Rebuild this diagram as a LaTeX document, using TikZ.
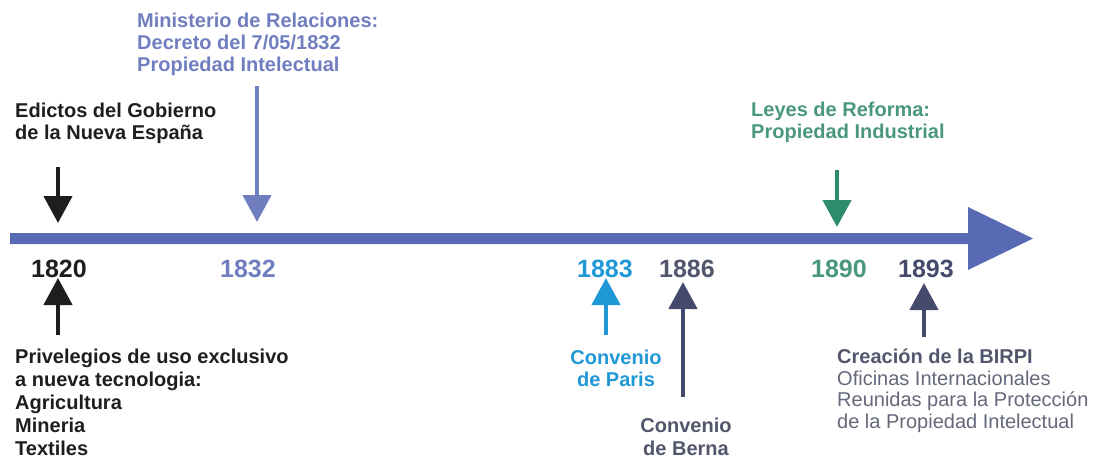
\documentclass[tikz,border=0pt]{standalone}
\usepackage{fontspec}
\setmainfont{Liberation Sans}
\usetikzlibrary{arrows.meta}

\definecolor{barblue}{RGB}{88,106,180}
\definecolor{lightslate}{RGB}{112,126,192}
\definecolor{inkblack}{RGB}{30,30,30}
\definecolor{skyblue}{RGB}{32,152,214}
\definecolor{darkslate}{RGB}{68,74,108}
\definecolor{slatetext}{RGB}{82,86,108}
\definecolor{greenarrow}{RGB}{46,140,110}
\definecolor{greentext}{RGB}{74,152,124}
\definecolor{greytext}{RGB}{100,104,122}

% multi-line labels are placed by the baseline of their last line
\tikzset{
  label/.style={inner sep=0pt, align=left, anchor=base west,
    font=\fontsize{20}{22}\selectfont\bfseries},
  labelc/.style={label, align=center, anchor=base},
  year/.style={inner sep=0pt, anchor=base,
    font=\fontsize{25}{27}\selectfont\bfseries},
  pointer/.style={line width=4.5pt,
    -{Triangle[width=28pt,length=27pt]}},
}

\begin{document}
\begin{tikzpicture}[x=1pt,y=-1pt]
\useasboundingbox (0,0) rectangle (1096,459);

% timeline bar with its arrow head
\fill[barblue] (10,233) -- (968,233) -- (968,207) -- (1033,238.5)
  -- (968,270) -- (968,244) -- (10,244) -- cycle;

% years under the bar
\node[year, text=inkblack]   (y1820) at (59,277)  {1820};
\node[year, text=lightslate] (y1832) at (248,277) {1832};
\node[year, text=skyblue]    (y1883) at (605,277) {1883};
\node[year, text=slatetext]  (y1886) at (687,277) {1886};
\node[year, text=greentext]  (y1890) at (839,277) {1890};
\node[year, text=darkslate]  (y1893) at (926,277) {1893};

% events above the bar
\node[label, text=inkblack] (edictos) at (15,139)
  {Edictos del Gobierno\\de la Nueva España};
\node[label, text=lightslate] (ministerio) at (137,71)
  {Ministerio de Relaciones:\\Decreto del 7/05/1832\\Propiedad Intelectual};
\node[label, text=greentext] (leyes) at (751,138)
  {Leyes de Reforma:\\Propiedad Industrial};

% events below the bar
\node[label, text=inkblack, font=\fontsize{20}{23}\selectfont\bfseries] (privilegios) at (15,455)
  {Privelegios de uso exclusivo\\a nueva tecnologia:\\Agricultura\\Mineria\\Textiles};
\node[labelc, text=skyblue] (paris) at (616,386) {Convenio\\de Paris};
\node[labelc, text=slatetext, font=\fontsize{20}{23}\selectfont\bfseries] (berna) at (686,455)
  {Convenio\\de Berna};
\node[label, text=slatetext, font=\fontsize{20}{21.5}\selectfont\bfseries] (birpi) at (837,428)
  {Creación de la BIRPI\\{\mdseries\color{greytext}Oficinas Internacionales}\\
   {\mdseries\color{greytext}Reunidas para la Protección}\\
   {\mdseries\color{greytext}de la Propiedad Intelectual}};

% pointer ends
\coordinate (e1s) at (58,167);  \coordinate (e1t) at (58,223);
\coordinate (m1s) at (257,86);  \coordinate (m1t) at (257,222);
\coordinate (p1s) at (58,335);  \coordinate (p1t) at (58,278);
\coordinate (c1s) at (606,335); \coordinate (c1t) at (606,278);
\coordinate (b1s) at (683,397); \coordinate (b1t) at (683,282);
\coordinate (l1s) at (837,170); \coordinate (l1t) at (837,227);
\coordinate (r1s) at (924,337); \coordinate (r1t) at (924,283);

% pointers
\draw[pointer, inkblack]   (e1s) -- (e1t);
\draw[pointer, lightslate] (m1s) -- (m1t);
\draw[pointer, inkblack]   (p1s) -- (p1t);
\draw[pointer, skyblue]    (c1s) -- (c1t);
\draw[pointer, darkslate]  (b1s) -- (b1t);
\draw[pointer, greenarrow] (l1s) -- (l1t);
\draw[pointer, darkslate]  (r1s) -- (r1t);
\end{tikzpicture}
\end{document}
